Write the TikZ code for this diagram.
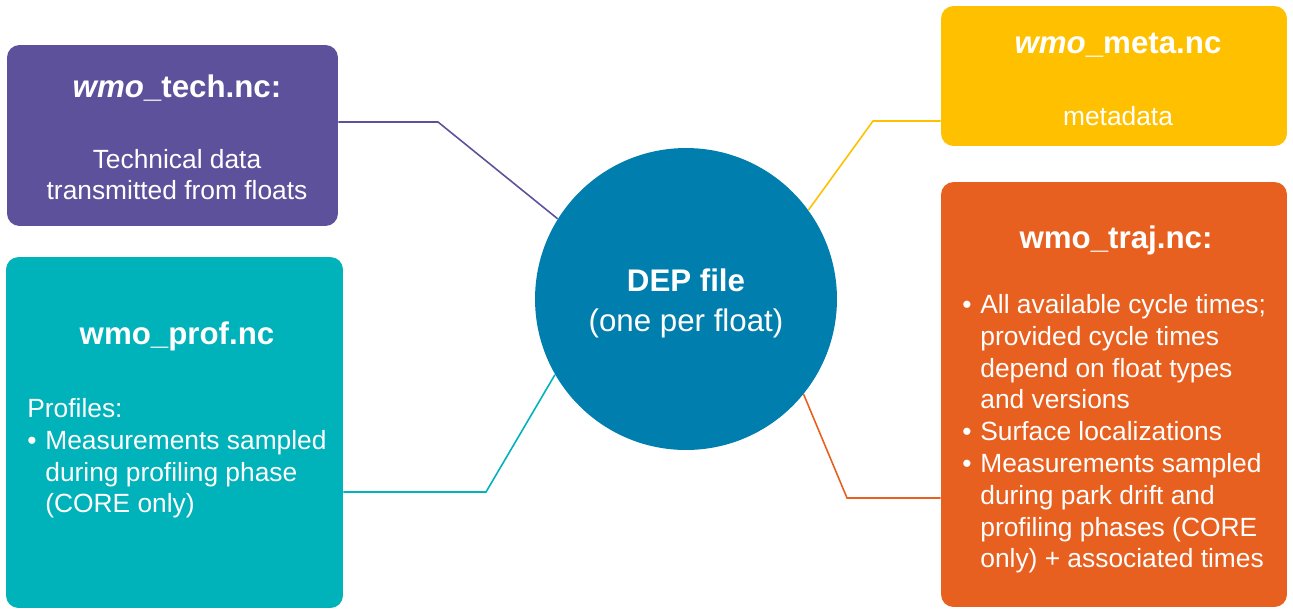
\documentclass[tikz,border=0pt]{standalone}
\usepackage{fontspec}
\setmainfont{Liberation Sans}
\usetikzlibrary{positioning}
\definecolor{techpurple}{HTML}{5E519C}
\definecolor{metayellow}{HTML}{FFC000}
\definecolor{profteal}{HTML}{00B2B9}
\definecolor{trajorange}{HTML}{E8601F}
\definecolor{depblue}{HTML}{007EAE}
\newlength{\pxu}
\setlength{\pxu}{0.02cm}
\newcommand{\blt}{\makebox[18\pxu][l]{\textbullet}}
\newcommand{\ind}{\hspace*{18\pxu}}
\tikzset{
  filebox/.style={rounded corners=0.25cm, inner sep=0pt},
  titletext/.style={text=white, font=\fontsize{17.8}{21}\selectfont\bfseries},
  bodytext/.style={text=white, font=\fontsize{15}{18.1}\selectfont, inner sep=0pt},
  link/.style={line width=0.9pt},
}
\begin{document}
\begin{tikzpicture}[x=0.02cm,y=-0.02cm]
    \useasboundingbox (0,0) rectangle (1293,610);
    % the file in the middle
    \node[circle, fill=depblue, minimum size=6.04cm, inner sep=0pt] (dep) at (686,299) {};
    \node[text=white, align=center, font=\fontsize{17.8}{22.7}\selectfont] (deptext) at (686,303)
        {\textbf{DEP file}\\(one per float)};
    % the four files round it
    \node[filebox, fill=techpurple, minimum width=6.62cm, minimum height=3.62cm] (tech) at (172.5,135.5) {};
    \node[filebox, fill=metayellow, minimum width=6.92cm, minimum height=2.8cm] (meta) at (1114,76) {};
    \node[filebox, fill=profteal, minimum width=6.74cm, minimum height=7.02cm] (prof) at (174.5,432.5) {};
    \node[filebox, fill=trajorange, minimum width=6.92cm, minimum height=8.5cm] (traj) at (1114,394.5) {};
    % texts
    \node[titletext] (techtitle) at (177,88) {\textit{wmo}\_tech.nc:};
    \node[bodytext, align=center] (techbody) at (177,174.5) {Technical data\\transmitted from floats};
    \node[titletext] (metatitle) at (1118,45) {\textit{wmo}\_meta.nc};
    \node[bodytext] (metabody) at (1118,116) {metadata};
    \node[titletext] (proftitle) at (177,336) {wmo\_prof.nc};
    \node[bodytext, align=left, anchor=north west] (profbody) at (27,398)
        {Profiles:\\\blt Measurements sampled\\\ind during profiling phase\\\ind (CORE only)};
    \node[titletext] (trajtitle) at (1116,240) {wmo\_traj.nc:};
    \node[bodytext, align=left, anchor=north west] (trajbody) at (962,294)
        {\blt All available cycle times;\\\ind provided cycle times\\\ind depend on float types\\\ind and versions\\
         \blt Surface localizations\\\blt Measurements sampled\\\ind during park drift and\\\ind profiling phases (CORE\\\ind only) + associated times};
    % links
    \coordinate (techbend) at (438,122);
    \coordinate (metabend) at (873,121);
    \coordinate (profbend) at (486,492);
    \coordinate (trajbend) at (847,498);
    \draw[link, techpurple] (tech.east |- techbend) -- (techbend) -- (dep.148);
    \draw[link, metayellow] (meta.west |- metabend) -- (metabend) -- (dep.36);
    \draw[link, profteal] (prof.east |- profbend) -- (profbend) -- (dep.210);
    \draw[link, trajorange] (traj.west |- trajbend) -- (trajbend) -- (dep.321);
\end{tikzpicture}
\end{document}
